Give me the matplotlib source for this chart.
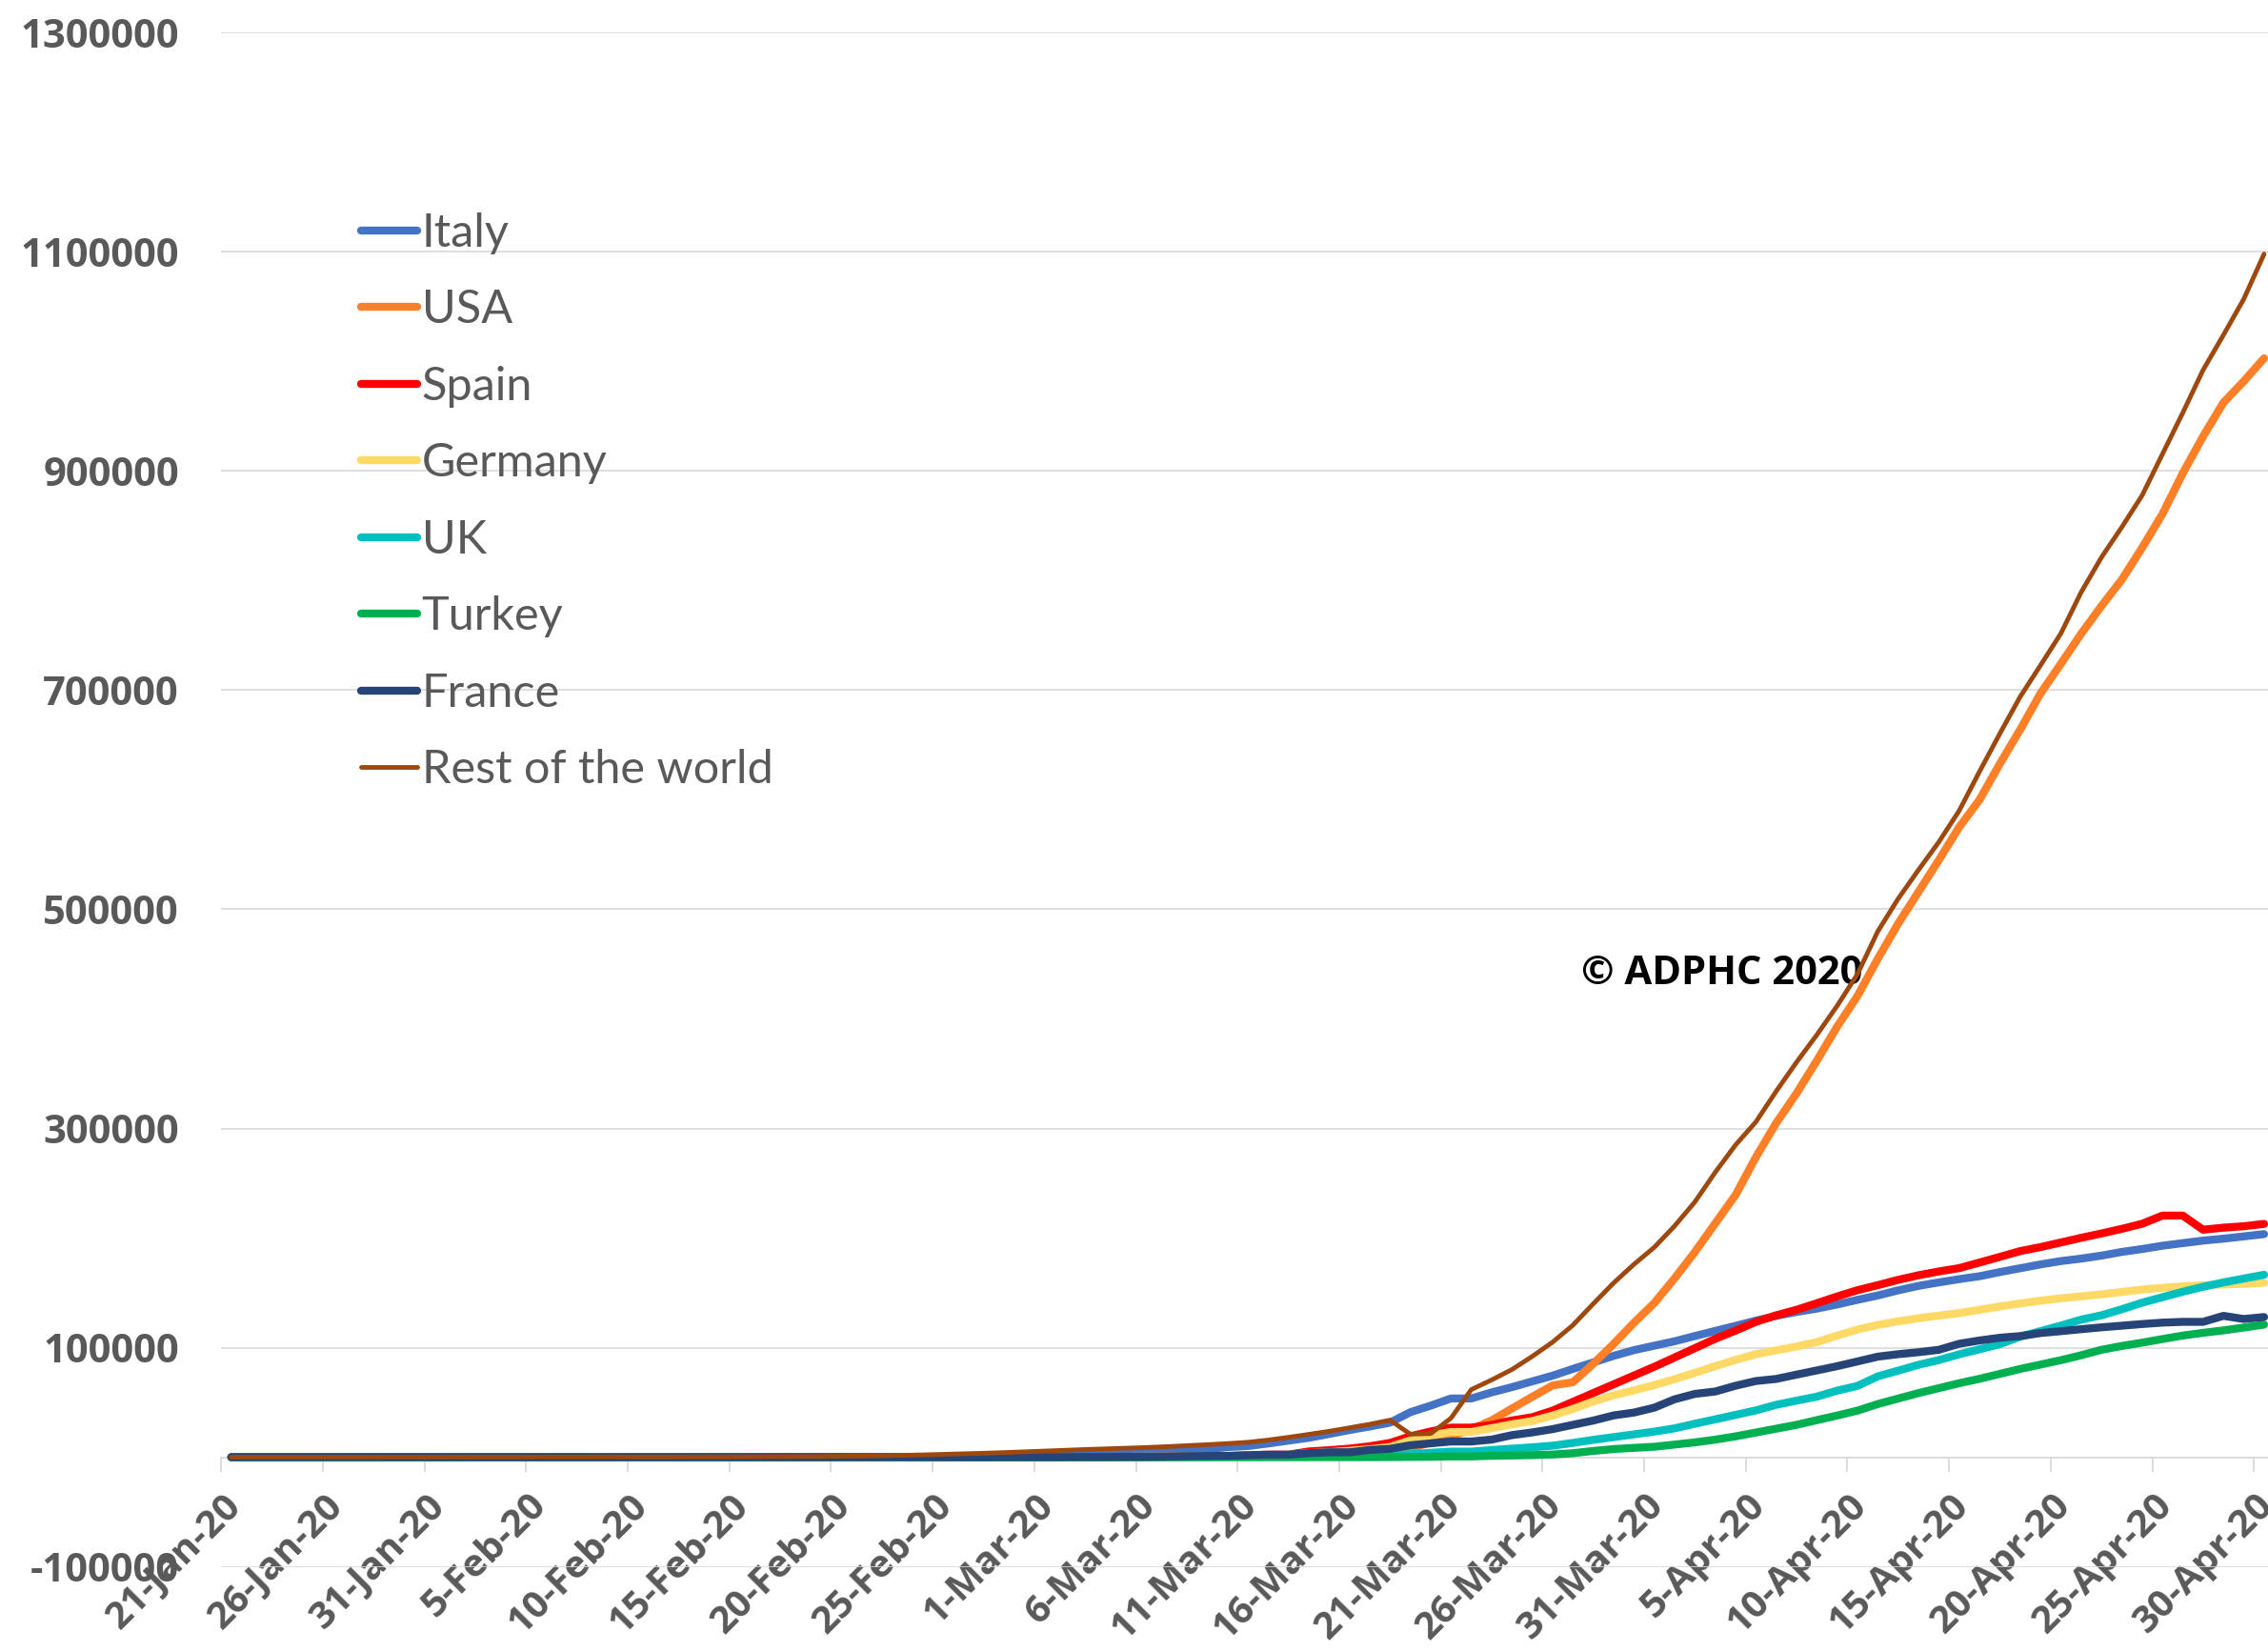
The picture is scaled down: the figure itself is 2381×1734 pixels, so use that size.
import numpy as np
import matplotlib
matplotlib.use("Agg")
import matplotlib.pyplot as plt
from matplotlib.transforms import ScaledTranslation

plt.rcParams['font.family'] = ['Lato', 'DejaVu Sans']
BOLD_FAMILY = ['Open Sans', 'Lato', 'DejaVu Sans']

# ---------------- data (cumulative cases, one value per day 21-Jan-20 .. 30-Apr-20) ----------------
italy = ([0] * 9 + [2] * 8 + [3] * 14 +
         [3, 20, 62, 155, 229, 322, 453, 655, 888, 1128, 1694, 2036, 2502, 3089, 3858, 4636, 5883,
          7375, 9172, 10149, 12462, 15113, 17660, 21157, 24747, 27980, 31506, 41035, 47021, 53578,
          53578, 59138, 63927, 69176, 74386, 80589, 86498, 92472, 97689, 101739, 105792, 110574,
          115242, 119827, 124632, 128948, 132547, 135586, 139422, 143626, 147577, 152271, 156363,
          159516, 162488, 165155, 168941, 172434, 175925, 178972, 181228, 183957, 187327, 189973,
          192994, 195351, 197675, 199414, 201505, 203591])

usa = [1, 1, 1, 1, 2, 2, 5, 5, 5, 5, 6, 7, 8, 8, 11, 11, 11, 11, 11, 11, 12, 12, 13, 13, 13, 13,
       13, 15, 15, 15, 15, 15, 15, 35, 35, 35, 53, 57, 60, 60, 62, 68, 75, 100, 124, 158, 221, 319,
       435, 541, 704, 994, 1301, 1630, 2183, 2770, 3613, 4596, 7786, 13680, 19101, 25493, 33600,
       44400, 55100, 65500, 68400, 85228, 103321, 122653, 140640, 163199, 187302, 213372, 239279,
       273808, 305000, 332000, 362000, 393000, 421000, 455000, 487000, 516000, 545000, 575000,
       600000, 632800, 664000, 697000, 724000, 751500, 776900, 800900, 830000, 860800, 898000,
       931700, 962500, 982000, 1003000]

spain = ([0] * 12 + [1] * 8 + [2] * 16 +
         [6, 13, 15, 32, 45, 84, 120, 165, 222, 259, 400, 500, 673, 1073, 1695, 2277, 2277, 5232,
          6391, 7798, 9942, 13000, 19000, 23500, 27000, 27000, 29500, 33500, 36500, 42500, 50500,
          58500, 66500, 74500, 82500, 91000, 99500, 108000, 115500, 123500, 129500, 134500, 140510,
          146690, 152446, 157022, 161852, 166019, 169496, 172541, 177633, 182816, 188068, 191726,
          195944, 200210, 204178, 208389, 213024, 220500, 220500, 207634, 209465, 210773, 212917])

germany = ([0] * 7 + [1, 4, 4, 4, 5, 8, 10, 12, 12, 12, 12, 13, 13, 14, 14] + [16] * 14 +
           [17, 27, 46, 48, 79, 130, 159, 196, 262, 482, 670, 799, 1040, 1176, 1457, 1908, 2078,
            3675, 4585, 5795, 7272, 9257, 15320, 19848, 23000, 23000, 26500, 30000, 33000, 38000,
            44000, 50800, 56500, 61000, 65800, 71200, 77000, 83000, 88800, 94000, 97500, 101000,
            105000, 111000, 116500, 120800, 124000, 126800, 129200, 131500, 134500, 137600, 140300,
            142800, 145000, 146800, 148600, 150800, 153000, 154600, 155900, 156900, 157600, 158300,
            159200])

uk = ([0] * 11 + [2] * 6 + [3] * 4 + [8] * 2 + [9] * 13 +
      [13, 13, 13, 20, 23, 36, 40, 51, 86, 116, 164, 207, 274, 322, 384, 459, 459, 802, 1144, 1145,
       1551, 1960, 2716, 4014, 5067, 5067, 6500, 7800, 9000, 10500, 13000, 15800, 18300, 20800,
       23300, 26300, 30500, 34500, 38600, 42700, 47800, 51600, 55242, 60733, 65077, 73758, 78991,
       84279, 88621, 93873, 98476, 103093, 110000, 115000, 120067, 125500, 129500, 135000, 141000,
       146000, 151000, 155500, 159500, 163000, 166500])

turkey = ([0] * 50 +
          [0, 1, 1, 5, 5, 6, 18, 47, 192, 359, 670, 670, 1236, 1529, 1872, 2433, 3629, 5698, 7402,
           8500, 9500, 11500, 13500, 16000, 19000, 22500, 26000, 29500, 33800, 38000, 42500, 48500,
           53500, 58500, 63000, 67500, 71500, 76000, 80500, 84500, 88500, 93000, 98000, 101500,
           104500, 107800, 111000, 113500, 115700, 118300, 121000])

france = ([0] * 4 + [2, 3, 3, 3, 4, 5, 5, 5] + [6] * 7 + [11] * 7 + [12] * 10 +
          [14, 18, 38, 57, 100, 130, 191, 204, 288, 380, 656, 957, 1134, 1217, 1792, 2289, 2289,
           3672, 4480, 4513, 6650, 7661, 10886, 12632, 14308, 14308, 16044, 20123, 22622, 25600,
           29551, 33402, 38105, 40708, 45170, 52827, 57749, 59929, 65202, 69500, 71412, 75343,
           79163, 83057, 87366, 91738, 94000, 95800, 98000, 103500, 106500, 109000, 110500, 113300,
           115000, 116800, 118500, 120000, 121500, 122800, 123500, 123500, 129000, 126100, 127900])

rest_of_world = [4, 6, 9, 12, 18, 25, 35, 45, 55, 70, 85, 100, 115, 130, 145, 165, 180, 190, 200,
                 215, 230, 245, 260, 280, 300,
                 340, 400, 460, 560, 700, 820, 1000, 1300, 1700, 2100, 2600, 3100, 3600, 4200,
                 4900, 5600, 6300, 7000, 7600, 8200, 8800, 9600, 10500, 11400, 12400, 13600,
                 15600, 18100, 20800, 23600, 26800, 30000, 33800,
                 21000, 21500, 35600, 61700, 70500, 80000, 92000, 105000, 120500, 140000, 159000,
                 176000, 191500, 211000, 233000, 260000, 285000, 306000, 334000, 360500, 385500,
                 412000, 441000, 480000, 509700, 536000, 561500, 590000, 625700, 660400, 694000,
                 722700, 751700, 789400, 821300, 848800, 877800, 915500, 953200, 992300, 1024200,
                 1057000, 1098100]

series_names = ['Italy', 'USA', 'Spain', 'Germany', 'UK', 'Turkey', 'France', 'Rest of the world']
series_values = [italy, usa, spain, germany, uk, turkey, france, rest_of_world]

x_tick_labels = ['21-Jan-20', '26-Jan-20', '31-Jan-20', '5-Feb-20', '10-Feb-20', '15-Feb-20',
                 '20-Feb-20', '25-Feb-20', '1-Mar-20', '6-Mar-20', '11-Mar-20', '16-Mar-20',
                 '21-Mar-20', '26-Mar-20', '31-Mar-20', '5-Apr-20', '10-Apr-20', '15-Apr-20',
                 '20-Apr-20', '25-Apr-20', '30-Apr-20']
y_tick_values = [-100000, 100000, 300000, 500000, 700000, 900000, 1100000, 1300000]
y_tick_labels = ['-100000', '100000', '300000', '500000', '700000', '900000', '1100000', '1300000']

# ---------------- styles ----------------
colors = ['#4472C4', '#FF7F27', '#FF0000', '#FFD966', '#00BFBF', '#00B050', '#264478', '#9E480E']
widths = [6.0, 6.0, 6.0, 6.0, 6.0, 6.0, 6.0, 3.5]

W, H, DPI = 2381, 1734, 100
fig = plt.figure(figsize=(W / DPI, H / DPI), dpi=DPI)

x_left_px = 232.2
px_per_day = 21.34
top_px, bot_px = 34.5, 1644.5
ax = fig.add_axes([x_left_px / W, 1 - bot_px / H, 1 - x_left_px / W, (bot_px - top_px) / H])

n = len(italy)
x = np.arange(n) + 0.5

lines = []
for k, (name, vals) in enumerate(zip(series_names, series_values)):
    ln, = ax.plot(x, vals, color=colors[k], lw=widths[k], label=name,
                  solid_capstyle='round', solid_joinstyle='round', zorder=3 + k)
    lines.append(ln)

ax.set_xlim(0, (W - x_left_px) / px_per_day)
ax.set_ylim(-100000, 1300000)

# grid
ax.set_yticks(y_tick_values)
ax.set_yticklabels(y_tick_labels, fontsize=30, fontweight='bold', color='#595959',
                   family=BOLD_FAMILY)
ax.yaxis.grid(True, color='#d9d9d9', lw=1.2)
ax.set_axisbelow(True)
ax.tick_params(axis='y', length=0, pad=32)

for s in ['top', 'right', 'left']:
    ax.spines[s].set_visible(False)
ax.spines['bottom'].set_position(('data', 0))
ax.spines['bottom'].set_color('#d9d9d9')
ax.spines['bottom'].set_linewidth(1.3)
ax.spines['bottom'].set_zorder(1)

ax.set_xticks(np.arange(0, 101, 5))
ax.set_xticklabels(x_tick_labels, fontsize=29, fontweight='bold', color='#595959',
                   family=BOLD_FAMILY,
                   rotation=45, ha='right', va='baseline', rotation_mode='anchor')
ax.tick_params(axis='x', direction='out', length=11, width=1.3, color='#d9d9d9', pad=0)
off = ScaledTranslation(0.22, -0.37, fig.dpi_scale_trans)
for lab in ax.get_xticklabels():
    lab.set_transform(lab.get_transform() + off)

# legend
leg = ax.legend(handles=lines, loc='upper left', bbox_to_anchor=(379 / W, 1 - 223 / H),
                bbox_transform=fig.transFigure, frameon=False, fontsize=35,
                handlelength=1.21, handletextpad=0.1, labelspacing=0.75,
                borderpad=0, borderaxespad=0)
for t in leg.get_texts():
    t.set_color('#595959')

# watermark
ax.text(73.82, 431500, '\u00a9 ADPHC 2020', ha='center', va='baseline', fontsize=30,
        fontweight='bold', color='black', zorder=2, family=BOLD_FAMILY)

fig.savefig('out.png', dpi=DPI)
